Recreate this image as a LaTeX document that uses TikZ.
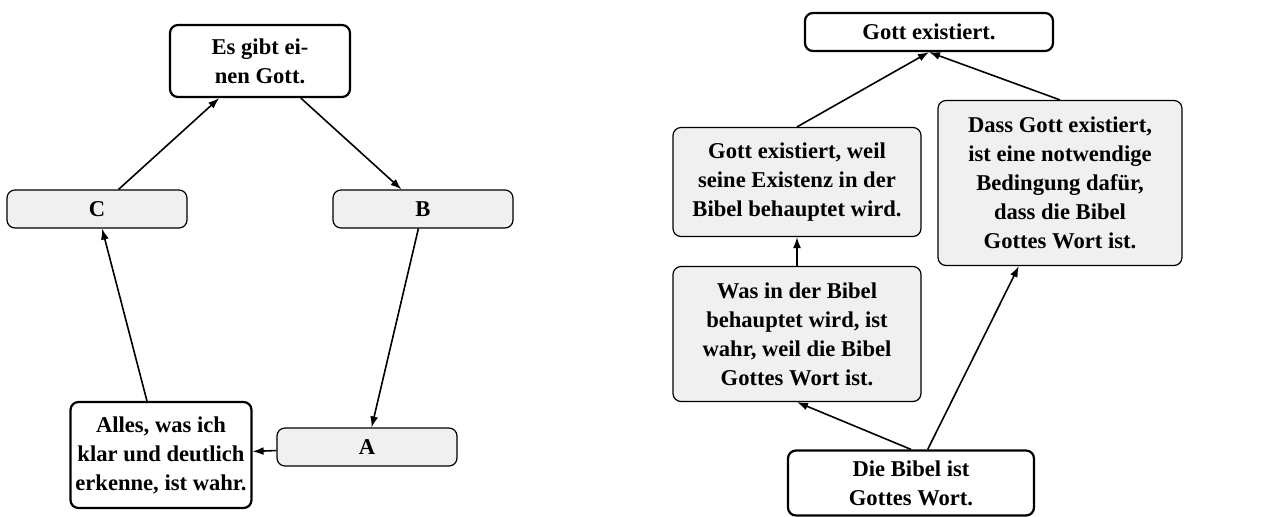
\documentclass[tikz,border=0pt]{standalone}
\usepackage{fontspec}
\setmainfont{Liberation Serif}
\usepackage{xcolor}
\usetikzlibrary{positioning,arrows,arrows.meta}

\begin{document}
\begin{tikzpicture}[x=1pt,y=1pt,
    every node/.style={on grid,draw,rounded corners=4pt,align=center,inner sep=2pt,
      font=\fontsize{11.3}{14.5}\selectfont\bfseries},
    thesis/.style={fill=white,line width=1.1pt},
    premise/.style={fill=black!6,line width=0.6pt},
    link/.style={-{Latex[length=5.5pt,width=4pt]},line width=0.8pt}]
  \useasboundingbox (0,0) rectangle (635.5,-258);
  % circle
  \node[thesis,minimum width=90pt,minimum height=36pt] (es) at (130,-30.5) {Es gibt ei-\\nen Gott.};
  \node[premise,minimum width=90pt,minimum height=19pt,below left=74pt and 81.5pt of es] (c) {C};
  \node[premise,minimum width=90pt,minimum height=19pt,below right=74pt and 81.5pt of es] (b) {B};
  \node[premise,minimum width=90pt,minimum height=19pt,below left=119pt and 28pt of b] (a) {A};
  \node[thesis,minimum width=90.5pt,minimum height=53pt,below left=4pt and 103pt of a] (alles) {Alles, was ich\\klar und deutlich\\erkenne, ist wahr.};
  \draw[link] (c) -- (es);
  \draw[link] (es) -- (b);
  \draw[link] (b) -- (a);
  \draw[link] (a) -- (alles);
  \draw[link] (alles) -- (c);
  % bible
  \node[thesis,minimum width=124pt,minimum height=19pt] (gott) at (464.5,-16) {Gott existiert.};
  \node[premise,minimum width=124pt,minimum height=54.5pt,below left=75pt and 66pt of gott] (weil) {Gott existiert, weil\\seine Existenz in der\\Bibel behauptet wird.};
  \node[premise,minimum width=122pt,minimum height=82.5pt,below right=75.5pt and 65.5pt of gott] (dass) {Dass Gott existiert,\\ist eine notwendige\\Bedingung dafür,\\dass die Bibel\\Gottes Wort ist.};
  \node[premise,minimum width=124pt,minimum height=67.5pt,below=76pt of weil] (was) {Was in der Bibel\\behauptet wird, ist\\wahr, weil die Bibel\\Gottes Wort ist.};
  \node[thesis,minimum width=123pt,minimum height=32.5pt,below right=74.5pt and 57pt of was] (die) {Die Bibel ist\\Gottes Wort.};
  \draw[link] (weil.north) -- (gott.south);
  \draw[link] (dass.north) -- (gott.south);
  \draw[link] (was.north) -- (weil.south);
  \draw[link] (die.north) -- (was.south);
  \draw[link] (die) -- (dass);
\end{tikzpicture}
\end{document}
